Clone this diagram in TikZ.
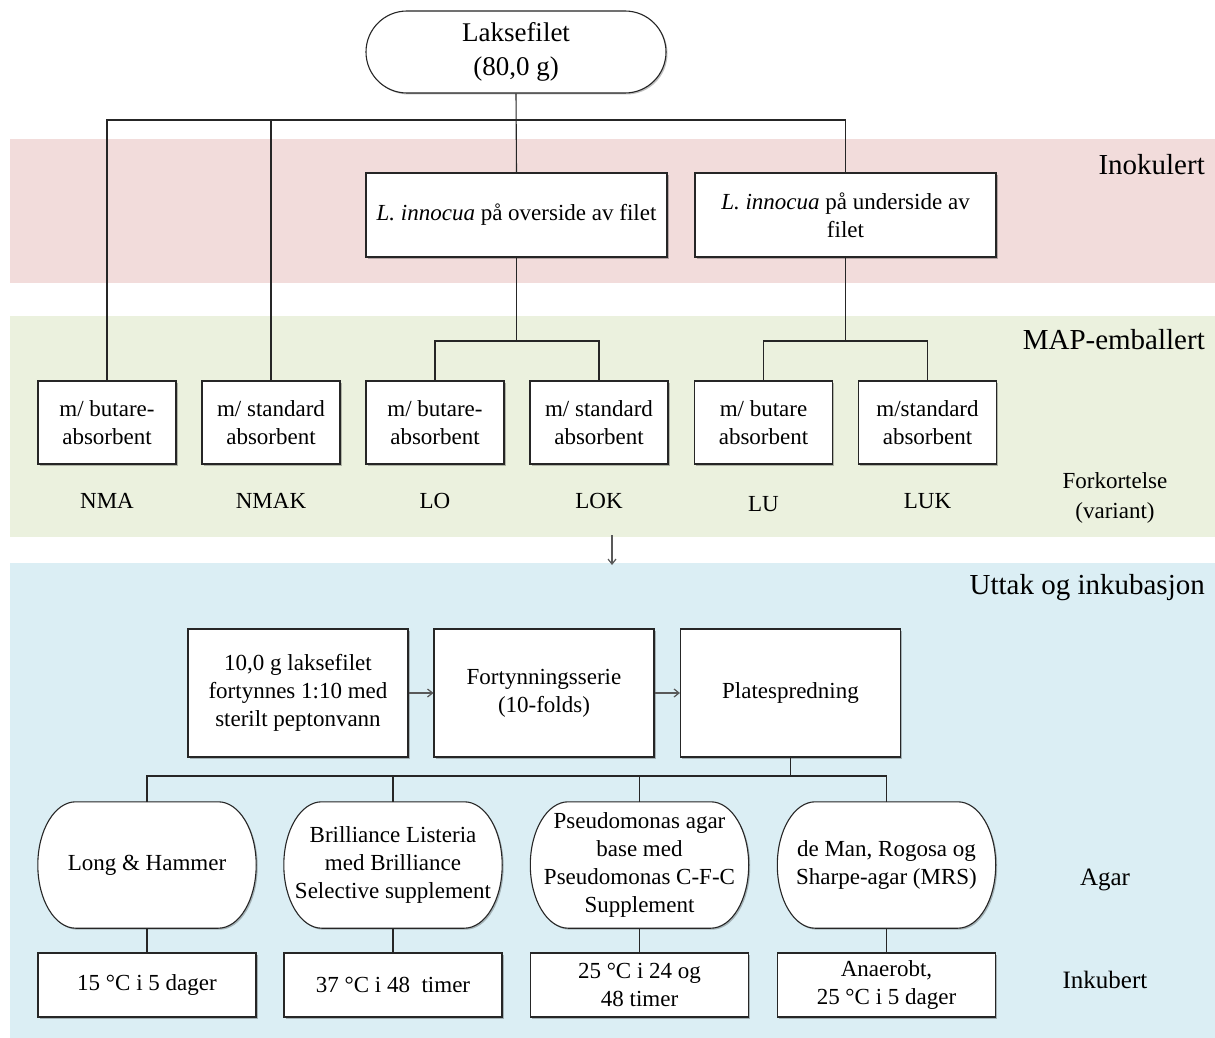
\documentclass[tikz,border=0pt]{standalone}
\usepackage{fontspec}
\setmainfont{Liberation Serif}
\usetikzlibrary{shapes.misc,arrows.meta,shadows,calc}
\definecolor{bandpink}{RGB}{242,220,219}
\definecolor{bandgreen}{RGB}{235,241,222}
\definecolor{bandblue}{RGB}{219,238,244}
\pgfdeclarelayer{bg}
\pgfdeclarelayer{shp}
\pgfsetlayers{bg,shp,main}
\newcommand{\agarshape}[1]{%
  \draw[agarline] ($(#1.north west)+(38,0)$) -- ($(#1.north east)+(-38,0)$)
    .. controls +(21,0) and +(0,-35) .. (#1.east)
    .. controls +(0,35) and +(21,0) .. ($(#1.south east)+(-38,0)$)
    -- ($(#1.south west)+(38,0)$)
    .. controls +(-21,0) and +(0,35) .. (#1.west)
    .. controls +(0,-35) and +(-21,0) .. ($(#1.north west)+(38,0)$) -- cycle;}
\begin{document}
\begin{tikzpicture}[x=1pt,y=-1pt,
  conn/.style={draw=black!85,line width=1.1pt},
  arr/.style={draw=black!65,line width=1.2pt,-{Straight Barb[length=5pt,width=8pt]}},
  shadowed/.style={drop shadow={shadow xshift=1.5pt,shadow yshift=-1.5pt,fill=black,opacity=0.25}},
  boxbase/.style={draw=black!85,line width=1.1pt,fill=white,inner sep=0pt,align=center,
    font=\fontsize{23}{28}\selectfont,shadowed},
  rbox/.style={boxbase,rectangle},
  mapbox/.style={rbox,minimum width=138pt,minimum height=83pt},
  inobox/.style={rbox,minimum width=301pt,minimum height=84pt},
  procbox/.style={rbox,minimum width=220pt,minimum height=128pt},
  incbox/.style={rbox,minimum width=218pt,minimum height=64pt},
  topnode/.style={boxbase,rounded rectangle,minimum width=300pt,minimum height=82pt,
    font=\fontsize{27}{34}\selectfont},
  agarnode/.style={rectangle,inner sep=0pt,align=center,font=\fontsize{23}{28}\selectfont,
    minimum width=218pt,minimum height=126pt},
  agarline/.style={draw=black!85,line width=1.1pt,fill=white,shadowed},
  lbl/.style={inner sep=0pt,align=center,font=\fontsize{23}{30}\selectfont},
  bandlbl/.style={inner sep=0pt,font=\fontsize{29}{32}\selectfont,anchor=east},
  sidelbl/.style={inner sep=0pt,align=center,font=\fontsize{25}{30}\selectfont}
]
\useasboundingbox (0,0) rectangle (1215,1038);
\begin{pgfonlayer}{bg}
\fill[white] (0,0) rectangle (1215,1038);
\fill[bandpink] (10,139) rectangle (1215,283);
\fill[bandgreen] (10,316) rectangle (1215,537);
\fill[bandblue] (10,563) rectangle (1215,1038);
\end{pgfonlayer}

% band titles
\node[bandlbl] (tInok) at (1205,165) {Inokulert};
\node[bandlbl] (tMap) at (1205,340) {MAP-emballert};
\node[bandlbl] (tUtt) at (1205,588) {Uttak og inkubasjon};
\node[lbl] (tFork) at (1115,498) {Forkortelse\\(variant)};
\node[sidelbl] (tAgar) at (1105,880) {Agar};
\node[sidelbl] (tInk) at (1105,980) {Inkubert};

% junction coordinates
\coordinate (j1) at (516,120);
\coordinate (j2) at (516.5,341);
\coordinate (j3) at (845.5,341);
\coordinate (j4) at (790.5,776);
\coordinate (a1) at (612,535);
\coordinate (a2) at (612,565);

\node[topnode] (top) at (516,52) {Laksefilet\\(80,0 g)};
\node[inobox] (ov) at (516.5,215) {\textit{L. innocua} på overside av filet};
\node[inobox] (un) at (845.5,215) {\textit{L. innocua} på underside av\\filet};

\node[mapbox] (m1) at (107,422.5) {m/ butare-\\absorbent};
\node[mapbox] (m2) at (271,422.5) {m/ standard\\absorbent};
\node[mapbox] (m3) at (435,422.5) {m/ butare-\\absorbent};
\node[mapbox] (m4) at (599,422.5) {m/ standard\\absorbent};
\node[mapbox] (m5) at (763.5,422.5) {m/ butare\\absorbent};
\node[mapbox] (m6) at (927.5,422.5) {m/standard\\absorbent};

\node[lbl] (l1) at (107,501) {NMA};
\node[lbl] (l2) at (271,501) {NMAK};
\node[lbl] (l3) at (435,501) {LO};
\node[lbl] (l4) at (599,501) {LOK};
\node[lbl] (l5) at (763.5,504) {LU};
\node[lbl] (l6) at (927.5,501) {LUK};

\node[procbox] (pa) at (298,693) {10,0 g laksefilet\\fortynnes 1:10 med\\sterilt peptonvann};
\node[procbox] (pb) at (544,693) {Fortynningsserie\\(10-folds)};
\node[procbox] (pc) at (790.5,693) {Platespredning};

\node[agarnode] (ag1) at (147,865) {Long \& Hammer};
\node[agarnode] (ag2) at (393,865) {Brilliance Listeria\\med Brilliance\\Selective supplement};
\node[agarnode] (ag3) at (639.5,865) {Pseudomonas agar\\base med\\Pseudomonas C-F-C\\Supplement};
\node[agarnode] (ag4) at (886.5,865) {de Man, Rogosa og\\Sharpe-agar (MRS)};
\begin{pgfonlayer}{shp}
\agarshape{ag1}
\agarshape{ag2}
\agarshape{ag3}
\agarshape{ag4}
\end{pgfonlayer}

\node[incbox] (i1) at (147,985) {15 °C i 5 dager};
\node[incbox] (i2) at (393,985) {37 °C i 48\ \ timer};
\node[incbox] (i3) at (639.5,985) {25 °C i 24 og\\48 timer};
\node[incbox] (i4) at (886.5,985) {Anaerobt,\\25 °C i 5 dager};

% connectors
\draw[conn] (top.south) -- (ov.north);
\draw[conn] (m1.north) |- (j1) -| (un.north);
\draw[conn] (m2.north) -- (m2.north |- j1);
\draw[conn] (ov.south) -- (j2);
\draw[conn] (m3.north) |- (j2) -| (m4.north);
\draw[conn] (un.south) -- (j3);
\draw[conn] (m5.north) |- (j3) -| (m6.north);

\draw[arr] (a1) -- (a2);
\draw[arr] (pa.east) -- (pb.west);
\draw[arr] (pb.east) -- (pc.west);

\draw[conn] (pc.south) -- (j4);
\draw[conn] (ag1.north) |- (j4) -| (ag4.north);
\draw[conn] (ag2.north) -- (ag2.north |- j4);
\draw[conn] (ag3.north) -- (ag3.north |- j4);

\draw[conn] (ag1.south) -- (i1.north);
\draw[conn] (ag2.south) -- (i2.north);
\draw[conn] (ag3.south) -- (i3.north);
\draw[conn] (ag4.south) -- (i4.north);
\end{tikzpicture}
\end{document}
